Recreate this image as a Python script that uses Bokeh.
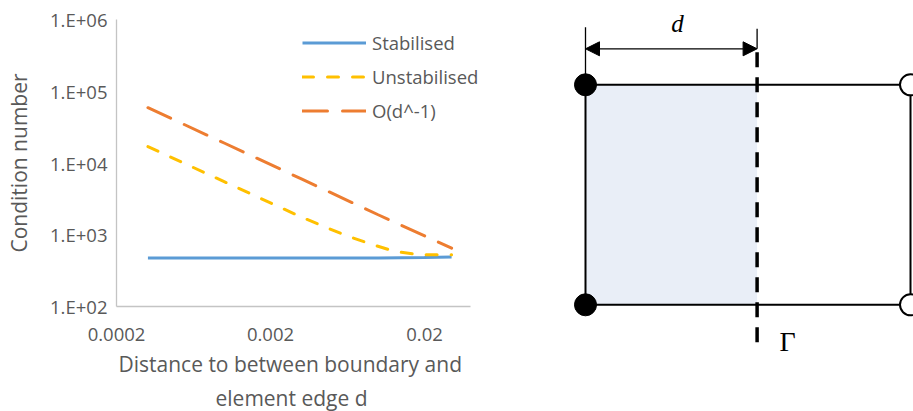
from bokeh.plotting import figure
from bokeh.models import (Range1d, Legend, LegendItem, CustomJSTickFormatter,
                          FixedTicker, Arrow, NormalHead, Label, Title)
from bokeh.layouts import row
from bokeh.embed import file_html
from bokeh.resources import INLINE

# ---------------- data ----------------
d_stab = [0.00032, 0.001, 0.0032, 0.01, 0.02, 0.03]
cond_stab = [473, 473, 474, 476, 482, 490]

d_unstab = [0.00032, 0.001, 0.0032, 0.006, 0.0088, 0.0127, 0.0183, 0.03]
cond_unstab = [16900, 5500, 1750, 1000, 750, 590, 526, 526]

d_order = [0.00032, 0.001, 0.0032, 0.01, 0.03]
cond_order = [59000, 19000, 5950, 1900, 650]

x_ticks = [0.0002, 0.002, 0.02]
y_ticks = [1e2, 1e3, 1e4, 1e5, 1e6]
x_axis_end = 0.04

series_names = ["Stabilised", "Unstabilised", "O(d^-1)"]
series_colors = ["#5B9BD5", "#FFC000", "#ED7D31"]

x_title_lines = ["Distance to between boundary and", "element edge d"]
y_title = "Condition number"

# diagram geometry (element of unit size, boundary at fraction d_frac)
d_frac = 0.528
diagram_d_label = "d"
diagram_gamma_label = "\u0393"

FONT = "Open Sans"
TXT = "#595959"

# ---------------- left chart ----------------
p = figure(width=540, height=411, x_axis_type="log", y_axis_type="log",
           x_range=Range1d(0.0002, 0.0498), y_range=Range1d(1e2, 1e6),
           output_backend="svg", toolbar_location=None,
           min_border_left=116, min_border_right=55,
           min_border_top=19, min_border_bottom=104)
p.frame_align = False
p.outline_line_color = None
p.xgrid.grid_line_color = None
p.ygrid.grid_line_color = None
p.background_fill_color = "white"
p.border_fill_color = "white"

r_stab = p.line(d_stab, cond_stab, line_color=series_colors[0], line_width=3)
r_unstab = p.line(d_unstab, cond_unstab, line_color=series_colors[1], line_width=3,
                  line_dash="11 14", line_cap="round")
r_order = p.line(d_order, cond_order, line_color=series_colors[2], line_width=3,
                 line_dash="25 15", line_cap="round")

for ax in (p.xaxis[0], p.yaxis[0]):
    ax.axis_line_color = "#C4C4C4"
    ax.axis_line_width = 1.3
    ax.major_tick_line_color = None
    ax.minor_tick_line_color = None
    ax.major_tick_out = 0
    ax.major_tick_in = 0
    ax.major_label_text_font = FONT
    ax.major_label_text_font_size = "18.5px"
    ax.major_label_text_color = TXT
    ax.axis_label_text_font = FONT
    ax.axis_label_text_font_size = "21px"
    ax.axis_label_text_font_style = "normal"
    ax.axis_label_text_color = TXT

p.xaxis.bounds = (x_ticks[0], x_axis_end)
p.xaxis.ticker = FixedTicker(ticks=x_ticks, minor_ticks=[])
p.yaxis.ticker = FixedTicker(ticks=y_ticks, minor_ticks=[])
p.xaxis.formatter = CustomJSTickFormatter(code="return tick.toString();")
p.yaxis.formatter = CustomJSTickFormatter(
    code="return '1.E+0' + Math.round(Math.log10(tick));")
p.xaxis.major_label_standoff = 21
p.yaxis.major_label_standoff = 9
p.yaxis.axis_label = y_title
p.yaxis.axis_label_standoff = 14

# x-axis title as two centred lines below the axis
for txt, off, so in zip(x_title_lines, [2, 99], [8, 0]):
    p.add_layout(Title(text=txt, align="left", offset=off, standoff=so,
                       text_font=FONT, text_font_size="21px",
                       text_font_style="normal", text_color=TXT), "below")

legend = Legend(items=[LegendItem(label=series_names[0], renderers=[r_stab]),
                       LegendItem(label=series_names[1], renderers=[r_unstab]),
                       LegendItem(label=series_names[2], renderers=[r_order])],
                location=(186, 183), orientation="vertical",
                glyph_width=64, glyph_height=25, label_height=25,
                label_standoff=6, spacing=9, padding=0, margin=0,
                border_line_color=None, background_fill_alpha=0,
                label_text_font=FONT, label_text_font_size="18.5px",
                label_text_color=TXT)
p.add_layout(legend, "center")

# ---------------- right diagram ----------------
px_per_x = 325.0
px_per_y = 220.0
q = figure(width=373, height=411,
           x_range=Range1d(-45 / px_per_x, 328 / px_per_x),
           y_range=Range1d(-106.7 / px_per_y, 304.3 / px_per_y),
           output_backend="svg", toolbar_location=None,
           min_border=0, min_border_left=0, min_border_right=0,
           min_border_top=0, min_border_bottom=0)
q.frame_align = False
q.axis.visible = False
q.xgrid.grid_line_color = None
q.ygrid.grid_line_color = None
q.outline_line_color = None
q.background_fill_color = "white"
q.border_fill_color = "white"

# shaded cut part of the element
q.quad(left=[0], right=[d_frac], bottom=[0], top=[1],
       fill_color="#E9EEF7", line_color=None)

# element edges
q.multi_line(xs=[[0, 1], [0, 1], [0, 0], [1, 1]],
             ys=[[1, 1], [0, 0], [0, 1], [0, 1]],
             line_color="black", line_width=2)

# dimension extension lines
arrow_y = 256.0 / px_per_y
q.multi_line(xs=[[0, 0], [d_frac, d_frac]],
             ys=[[1, 277.6 / px_per_y], [arrow_y, 276.0 / px_per_y]],
             line_color="black", line_width=1.3)

# boundary Gamma (dashed)
q.line([d_frac, d_frac], [-37.4 / px_per_y, arrow_y], line_color="black",
       line_width=3.5, line_dash="15 10")

# dimension arrow
q.add_layout(Arrow(start=NormalHead(size=14, fill_color="black", line_color="black"),
                   end=NormalHead(size=14, fill_color="black", line_color="black"),
                   x_start=0, y_start=arrow_y, x_end=d_frac, y_end=arrow_y,
                   line_color="black", line_width=1.3))

# nodes
q.scatter([0, 0], [0, 1], size=22, fill_color="black", line_color="black")
q.scatter([1, 1], [0, 1], size=21, fill_color="white", line_color="black",
          line_width=2)

q.add_layout(Label(x=d_frac * 0.536, y=281 / px_per_y, text=diagram_d_label,
                   text_font="Liberation Serif", text_font_style="italic",
                   text_font_size="25px", text_color="black",
                   text_align="center", text_baseline="middle"))
q.add_layout(Label(x=194 / px_per_x, y=-36.4 / px_per_y, text=diagram_gamma_label,
                   text_font="Liberation Serif", text_font_size="28px",
                   text_color="black", text_align="left",
                   text_baseline="middle"))

layout = row(p, q)
open("out.html", "w").write(file_html(layout, INLINE))
